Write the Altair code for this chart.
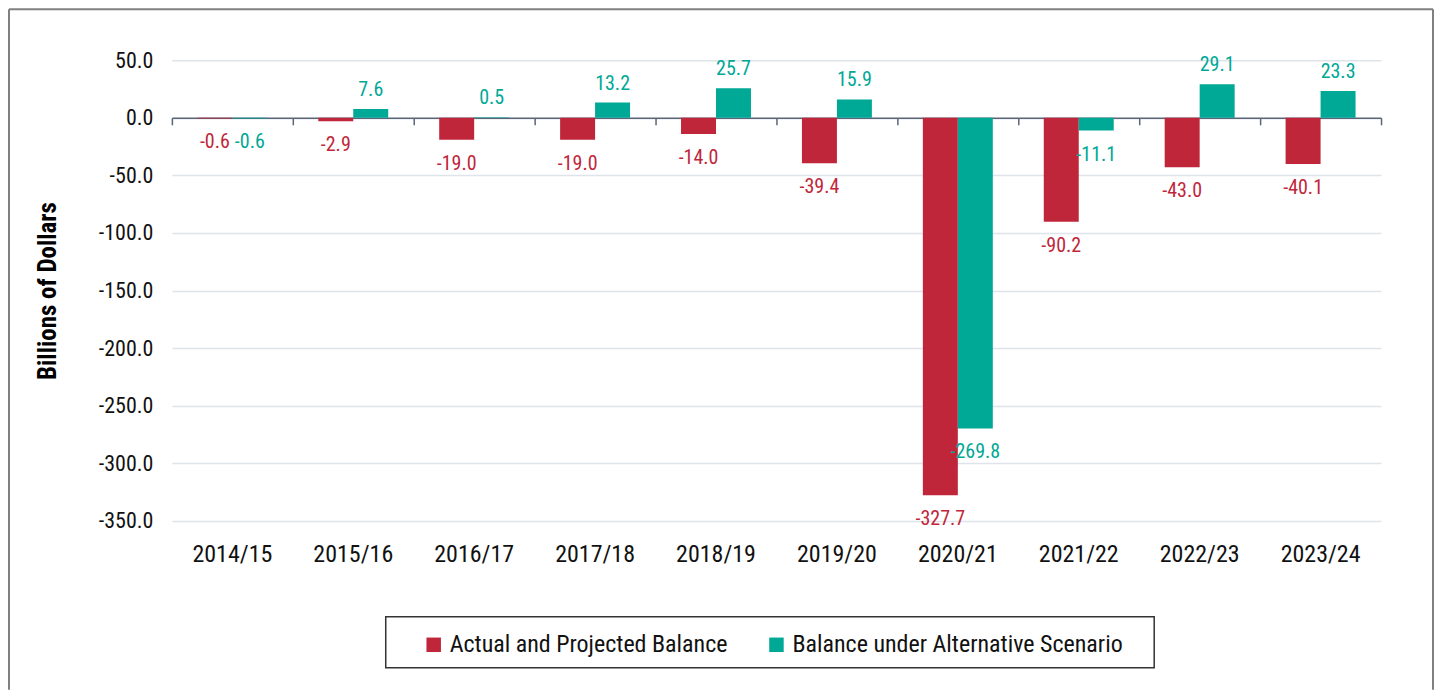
import altair as alt
import pandas as pd

years = ["2014/15", "2015/16", "2016/17", "2017/18", "2018/19",
         "2019/20", "2020/21", "2021/22", "2022/23", "2023/24"]
series_names = ["Actual and Projected Balance", "Balance under Alternative Scenario"]
actual = [-0.6, -2.9, -19.0, -19.0, -14.0, -39.4, -327.7, -90.2, -43.0, -40.1]
alternative = [-0.6, 7.6, 0.5, 13.2, 25.7, 15.9, -269.8, -11.1, 29.1, 23.3]
y_ticks = [50, 0, -50, -100, -150, -200, -250, -300, -350]

rows = []
for i, yr in enumerate(years):
    rows.append({"year": yr, "series": series_names[0], "value": actual[i]})
    rows.append({"year": yr, "series": series_names[1], "value": alternative[i]})
df = pd.DataFrame(rows)

FONT = "Liberation Sans Narrow, Roboto Condensed, DejaVu Sans Condensed, sans-serif"
RED = "#C0263A"
TEAL = "#00A896"
W, H = 1210, 461
YMIN, YMAX = -350, 50
zero_offset = -(H * (0 - YMIN) / (YMAX - YMIN))
HYPHEN = "replace(datum.label, '\u2212', '-')"

color_scale = alt.Scale(domain=series_names, range=[RED, TEAL])
x_scale = alt.Scale(paddingInner=0, paddingOuter=0)
xo_scale = alt.Scale(paddingInner=0, paddingOuter=0.7286)
y_scale = alt.Scale(domain=[YMIN, YMAX], nice=False)
y_axis = alt.Axis(values=y_ticks, format=".1f", labelExpr=HYPHEN, grid=True,
                  gridColor="#dfe3ea", gridWidth=1.5, domain=False, ticks=False,
                  labelPadding=19, labelFont=FONT, labelFontSize=22,
                  labelColor="#111111", title="Billions of Dollars", titleFont=FONT,
                  titleFontSize=25, titleFontWeight="bold", titleColor="#000000",
                  titlePadding=38)

base = alt.Chart(df).transform_calculate(
    label="replace(format(datum.value, '.1f'), '\u2212', '-')"
)

bars = base.mark_bar().encode(
    x=alt.X("year:N", sort=years, scale=x_scale,
            axis=alt.Axis(orient="bottom", offset=zero_offset, labels=False, title=None,
                          domain=True, domainColor="#5b6577", domainWidth=1.5,
                          ticks=True, tickBand="extent", tickSize=7,
                          tickColor="#5b6577", tickWidth=1.5, grid=False)),
    xOffset=alt.XOffset("series:N", sort=series_names, scale=xo_scale),
    y=alt.Y("value:Q", scale=y_scale, axis=y_axis),
    color=alt.Color("series:N", scale=color_scale, sort=series_names,
                    legend=alt.Legend(orient="none", legendX=250, legendY=573,
                                      direction="horizontal", title=None,
                                      symbolType="square", symbolSize=210,
                                      symbolStrokeWidth=0, labelFont=FONT,
                                      labelFontSize=24, labelColor="#111111",
                                      labelOffset=4, columnPadding=36,
                                      labelLimit=500)),
)

neg_text = base.transform_filter(alt.datum.value < 0).mark_text(
    font=FONT, fontSize=20, baseline="middle", dy=24
).encode(
    x=alt.X("year:N", sort=years, scale=x_scale,
            axis=alt.Axis(orient="top", offset=-507, labelPadding=0, domain=False,
                          ticks=False, grid=False, title=None, labelFont=FONT,
                          labelFontSize=24, labelColor="#111111", labelAngle=0)),
    xOffset=alt.XOffset("series:N", sort=series_names, scale=xo_scale),
    y=alt.Y("value:Q", scale=y_scale, axis=y_axis),
    text=alt.Text("label:N"),
    color=alt.Color("series:N", scale=color_scale, sort=series_names, legend=None),
)

pos_text = base.transform_filter(alt.datum.value >= 0).mark_text(
    font=FONT, fontSize=20, baseline="middle", dy=-19
).encode(
    x=alt.X("year:N", sort=years, scale=x_scale, axis=None),
    xOffset=alt.XOffset("series:N", sort=series_names, scale=xo_scale),
    y=alt.Y("value:Q", scale=y_scale, axis=y_axis),
    text=alt.Text("label:N"),
    color=alt.Color("series:N", scale=color_scale, sort=series_names, legend=None),
)

one = alt.Chart(pd.DataFrame({"k": [0]}))
legend_box = one.mark_rect(fillOpacity=0, stroke="#333333", strokeWidth=1.5).encode(
    x=alt.value(214), x2=alt.value(983), y=alt.value(557), y2=alt.value(608))
frame_left = one.mark_rule(color="#808080", strokeWidth=2).encode(
    x=alt.value(-163), y=alt.value(-51), y2=alt.value(630))
frame_right = one.mark_rule(color="#808080", strokeWidth=2).encode(
    x=alt.value(1262), y=alt.value(-51), y2=alt.value(630))
frame_top = one.mark_rule(color="#808080", strokeWidth=2).encode(
    x=alt.value(-163), x2=alt.value(1262), y=alt.value(-51))

chart = alt.layer(bars, neg_text, pos_text, legend_box, frame_left, frame_right, frame_top).resolve_axis(
    x="independent"
).properties(width=W, height=H, padding=0).configure_view(stroke=None)

chart.save("out.html", embed_options={"renderer": "svg", "actions": False})
